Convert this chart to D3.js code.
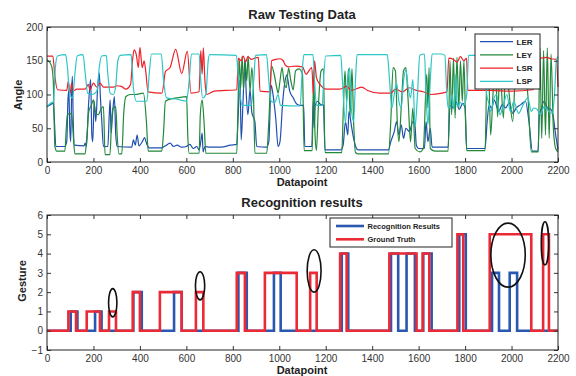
<!DOCTYPE html>
<html>
<head>
<meta charset="utf-8">
<script src="https://cdn.jsdelivr.net/npm/d3@7"></script>
<style>
  body { margin: 0; background: #fff; }
  svg { font-family: "Liberation Sans", Arial, sans-serif; }
  .tick text { fill: #333; font-size: 10px; }
  .tick line { stroke: #333; }
  .title { font-weight: bold; font-size: 13px; fill: #222; }
  .label { font-weight: bold; font-size: 11px; fill: #222; }
  .legend text { font-weight: bold; font-size: 8px; fill: #222; }
</style>
</head>
<body>
<svg id="chart" width="576" height="376"></svg>
<script>
// raw sensor angles as [datapoint, angle] vertices
const LER = [[0,82],[15,85],[27,87],[32,60],[38,23],[77,23],[85,30],[90,90],[94,107],[98,50],[102,30],[106,100],[109,127],[113,60],[118,25],[160,24],[164,28],[170,23],[178,80],[184,110],[188,122],[193,40],[197,30],[203,90],[210,60],[218,110],[225,132],[230,95],[236,60],[243,23],[262,23],[268,70],[272,92],[276,43],[282,70],[290,97],[296,40],[302,23],[365,22],[372,33],[380,25],[388,40],[396,24],[410,30],[420,36],[428,28],[440,21],[494,21],[510,24],[530,28],[545,23],[560,25],[580,22],[600,23],[615,26],[630,20],[645,23],[655,18],[662,30],[668,43],[672,15],[680,23],[700,22],[750,22],[790,25],[817,26],[822,60],[831,122],[836,33],[844,90],[852,152],[858,100],[865,70],[874,107],[882,73],[895,60],[903,23],[946,22],[955,30],[965,114],[975,95],[985,64],[995,23],[1003,30],[1015,90],[1025,120],[1032,129],[1045,105],[1060,95],[1075,86],[1090,84],[1105,84],[1110,23],[1140,23],[1146,90],[1150,50],[1155,85],[1165,90],[1175,86],[1190,84],[1197,18],[1265,18],[1275,25],[1285,60],[1295,40],[1300,75],[1310,55],[1320,35],[1330,22],[1340,18],[1470,18],[1480,30],[1495,45],[1505,60],[1515,40],[1525,55],[1535,35],[1545,50],[1560,45],[1575,60],[1584,55],[1590,25],[1600,20],[1625,20],[1632,60],[1640,30],[1650,50],[1658,22],[1670,22],[1727,22],[1735,84],[1750,80],[1760,90],[1775,78],[1790,87],[1800,80],[1807,20],[1886,20],[1895,60],[1903,84],[1915,80],[1925,92],[1945,75],[1960,85],[1975,80],[1990,88],[2005,72],[2020,80],[2040,85],[2060,90],[2075,60],[2090,16],[2114,16],[2120,70],[2128,79],[2140,90],[2155,80],[2170,78],[2178,70],[2190,40],[2200,18]];

const LEY = [[0,152],[20,142],[27,120],[34,23],[42,16],[77,16],[83,50],[88,70],[106,72],[113,40],[120,12],[164,12],[172,40],[180,75],[192,85],[200,92],[208,75],[220,70],[235,80],[243,82],[250,11],[271,11],[278,60],[285,80],[296,82],[302,40],[310,12],[322,12],[330,70],[340,97],[360,100],[380,100],[415,102],[428,60],[436,16],[494,16],[501,40],[510,90],[540,94],[580,96],[601,97],[606,40],[612,13],[655,13],[660,70],[668,92],[676,60],[684,13],[817,13],[822,80],[828,152],[834,110],[840,157],[846,107],[853,150],[860,120],[866,157],[874,105],[882,140],[889,100],[895,13],[946,13],[955,60],[967,142],[978,130],[989,110],[995,102],[1003,120],[1012,140],[1020,120],[1030,110],[1040,139],[1050,120],[1060,107],[1070,135],[1085,138],[1100,130],[1107,17],[1142,17],[1148,135],[1154,40],[1160,17],[1168,80],[1180,135],[1190,138],[1197,14],[1269,14],[1276,80],[1283,135],[1290,90],[1298,138],[1305,70],[1313,138],[1320,60],[1328,14],[1340,12],[1470,12],[1480,60],[1490,140],[1500,135],[1508,60],[1515,30],[1525,80],[1535,135],[1545,140],[1555,90],[1565,30],[1575,80],[1585,20],[1605,15],[1620,20],[1635,130],[1640,80],[1645,140],[1650,20],[1670,16],[1727,16],[1735,150],[1742,70],[1750,154],[1757,65],[1765,155],[1773,80],[1780,150],[1788,90],[1795,150],[1802,60],[1807,17],[1886,17],[1893,120],[1900,150],[1910,40],[1920,100],[1930,150],[1940,67],[1950,140],[1965,65],[1975,150],[1990,100],[2005,60],[2020,150],[2035,120],[2050,140],[2070,100],[2085,15],[2115,15],[2122,169],[2130,35],[2138,165],[2146,40],[2154,169],[2162,35],[2170,160],[2180,50],[2190,20],[2200,15]];

const LSR = [[0,157],[25,157],[34,127],[45,107],[85,106],[92,120],[99,100],[106,117],[113,105],[128,108],[164,108],[178,115],[185,107],[200,117],[214,111],[228,117],[243,111],[286,111],[300,113],[320,112],[340,108],[360,115],[368,150],[375,166],[385,158],[393,140],[400,170],[410,140],[418,150],[425,135],[435,104],[495,102],[510,134],[530,140],[554,167],[580,131],[604,164],[620,102],[655,104],[662,165],[668,130],[673,169],[680,120],[687,100],[720,105],[817,107],[824,154],[835,150],[845,157],[855,148],[865,156],[880,152],[895,154],[910,155],[917,105],[960,104],[967,150],[985,152],[1003,153],[1017,150],[1025,144],[1040,141],[1070,142],[1100,141],[1115,130],[1140,140],[1147,100],[1152,150],[1160,125],[1175,115],[1204,108],[1262,108],[1290,112],[1310,106],[1355,111],[1380,106],[1434,102],[1480,102],[1500,108],[1530,104],[1560,110],[1590,106],[1620,104],[1649,100],[1700,102],[1722,104],[1730,154],[1750,152],[1765,148],[1780,156],[1795,150],[1806,154],[1812,106],[1850,106],[1900,106],[2000,105],[2093,107],[2107,152],[2130,154],[2150,155],[2170,153],[2193,152],[2200,111]];

const LSP = [[0,82],[15,87],[28,90],[36,140],[45,157],[80,159],[88,140],[98,100],[110,95],[120,130],[130,157],[155,159],[165,130],[175,102],[195,100],[215,105],[225,140],[235,157],[255,158],[262,130],[272,102],[285,100],[295,110],[305,150],[315,158],[362,159],[372,110],[385,90],[430,90],[440,130],[450,160],[492,160],[502,120],[515,95],[560,93],[600,90],[612,120],[622,160],[655,160],[662,120],[670,95],[684,100],[694,150],[700,159],[815,158],[825,120],[840,84],[880,84],[890,120],[898,158],[945,159],[955,120],[965,90],[980,88],[995,100],[1005,84],[1090,83],[1098,130],[1106,159],[1145,159],[1152,120],[1160,84],[1185,84],[1192,130],[1200,157],[1265,158],[1272,120],[1285,58],[1295,120],[1303,140],[1310,80],[1320,60],[1328,120],[1335,159],[1465,159],[1475,120],[1485,80],[1495,100],[1505,117],[1515,90],[1525,80],[1535,120],[1545,137],[1555,110],[1565,95],[1575,122],[1585,53],[1595,100],[1605,158],[1625,160],[1632,100],[1640,55],[1650,120],[1658,160],[1700,160],[1713,158],[1720,110],[1727,80],[1735,84],[1745,100],[1752,78],[1760,130],[1766,82],[1780,88],[1795,84],[1807,100],[1815,158],[1886,158],[1893,100],[1900,90],[1910,75],[1925,95],[1935,100],[1950,70],[1965,85],[1980,100],[1995,75],[2010,90],[2030,72],[2050,85],[2070,95],[2085,75],[2095,80],[2110,78],[2125,70],[2140,82],[2160,75],[2175,72],[2185,100],[2193,150],[2200,156]];

const seriesNames = ["LER", "LEY", "LSR", "LSP"];
const seriesColors = ["#1f4fb0", "#22883a", "#ee2028", "#2cc6c6"];

// recognition: [datapoint where value starts, gesture]
const recognized = [[0,0],[102,1],[131,0],[207,1],[235,0],[372,2],[408,0],[547,2],[580,0],[824,3],[860,0],[977,3],[1006,0],[1269,4],[1297,0],[1481,4],[1512,0],[1548,4],[1584,0],[1620,4],[1656,0],[1775,5],[1803,0],[1916,3],[1946,0],[1992,3],[2024,0],[2200,0]];
const groundTruth = [[0,0],[92,1],[125,0],[171,1],[228,0],[267,1],[297,0],[369,2],[400,0],[486,2],[580,0],[641,2],[673,0],[817,3],[852,0],[938,3],[1075,0],[1133,3],[1161,0],[1262,4],[1290,0],[1474,4],[1591,0],[1617,4],[1646,0],[1767,5],[1792,0],[1906,5],[2085,0],[2136,5],[2161,0],[2200,0]];

// misses circled in the figure: centre and half-size in data units
const ellipses = [
  { d: 283, g: 1.45, rd: 18, rg: 0.73 },
  { d: 659, g: 2.33, rd: 20, rg: 0.73 },
  { d: 1150, g: 3.1, rd: 30, rg: 1.1 },
  { d: 1985, g: 3.92, rd: 74, rg: 1.66 },
  { d: 2144, g: 4.53, rd: 16, rg: 1.12 }
];

const xTicks = [0, 200, 400, 600, 800, 1000, 1200, 1400, 1600, 1800, 2000, 2200];
const angleTicks = [0, 50, 100, 150, 200];
const gestureTicks = [-1, 0, 1, 2, 3, 4, 5, 6];

const svg = d3.select("#chart");
const left = 47, right = 558;

const x = d3.scaleLinear().domain([0, 2200]).range([left, right]);
const yTop = d3.scaleLinear().domain([0, 200]).range([162, 27]);
const yBot = d3.scaleLinear().domain([-1, 6]).range([350, 215]);

function frame(y, ticks, fmt) {
  const [y0, y1] = y.range();
  const g = svg.append("g");
  g.append("g").attr("transform", `translate(0,${y0})`)
    .call(d3.axisBottom(x).tickValues(xTicks).tickSizeInner(-4).tickSizeOuter(0)
      .tickPadding(5).tickFormat(d3.format("d")));
  g.append("g").attr("transform", `translate(0,${y1})`)
    .call(d3.axisTop(x).tickValues(xTicks).tickSizeInner(-4).tickSizeOuter(0).tickFormat(""));
  g.append("g").attr("transform", `translate(${left},0)`)
    .call(d3.axisLeft(y).tickValues(ticks).tickSizeInner(-4).tickSizeOuter(0).tickPadding(4).tickFormat(fmt));
  g.append("g").attr("transform", `translate(${right},0)`)
    .call(d3.axisRight(y).tickValues(ticks).tickSizeInner(-4).tickSizeOuter(0).tickFormat(""));
  g.selectAll(".domain").remove();
  g.append("rect")
    .attr("x", left).attr("y", y1)
    .attr("width", right - left).attr("height", y0 - y1)
    .attr("fill", "none").attr("stroke", "#222").attr("stroke-width", 1);
}

// ---- top: raw testing data
const line = d3.line().x(d => x(d[0])).y(d => yTop(d[1])).curve(d3.curveMonotoneX);
[LER, LEY, LSR, LSP].forEach((s, i) => {
  svg.append("path")
    .datum(s)
    .attr("fill", "none")
    .attr("stroke", seriesColors[i])
    .attr("stroke-width", 1.2)
    .attr("stroke-linejoin", "round")
    .attr("d", line);
});
frame(yTop, angleTicks, d3.format("d"));

svg.append("text").attr("class", "title").attr("x", 302).attr("y", 19)
  .attr("text-anchor", "middle").text("Raw Testing Data");
svg.append("text").attr("class", "label").attr("x", 302).attr("y", 186)
  .attr("text-anchor", "middle").text("Datapoint");
svg.append("text").attr("class", "label")
  .attr("transform", "translate(22,95) rotate(-90)")
  .attr("text-anchor", "middle").text("Angle");

const leg1 = svg.append("g").attr("class", "legend");
leg1.append("rect").attr("x", 475).attr("y", 34).attr("width", 65).attr("height", 55)
  .attr("fill", "#fff").attr("stroke", "#222");
seriesNames.forEach((n, i) => {
  const yy = 41.7 + i * 13.2;
  leg1.append("line").attr("x1", 480).attr("x2", 513).attr("y1", yy).attr("y2", yy)
    .attr("stroke", seriesColors[i]).attr("stroke-width", 1.2);
  leg1.append("text").attr("x", 516.5).attr("y", yy + 3).text(n);
});

// ---- bottom: recognition results
const step = d3.line().x(d => x(d[0])).y(d => yBot(d[1])).curve(d3.curveStepAfter);
svg.append("path").datum(recognized)
  .attr("fill", "none").attr("stroke", "#2a58b0").attr("stroke-width", 2.6).attr("d", step);
svg.append("path").datum(groundTruth)
  .attr("fill", "none").attr("stroke", "#ec2a36").attr("stroke-width", 2.6).attr("d", step);

svg.selectAll(".miss")
  .data(ellipses)
  .enter().append("ellipse")
  .attr("class", "miss")
  .attr("cx", d => x(d.d))
  .attr("cy", d => yBot(d.g))
  .attr("rx", d => x(d.rd) - x(0))
  .attr("ry", d => yBot(0) - yBot(d.rg))
  .attr("fill", "none").attr("stroke", "#111").attr("stroke-width", 1.6);

frame(yBot, gestureTicks, d => d < 0 ? "\u2212" + Math.abs(d) : d);

svg.append("text").attr("class", "title").attr("x", 302).attr("y", 207)
  .attr("text-anchor", "middle").text("Recognition results");
svg.append("text").attr("class", "label").attr("x", 302).attr("y", 374)
  .attr("text-anchor", "middle").text("Datapoint");
svg.append("text").attr("class", "label")
  .attr("transform", "translate(26,281) rotate(-90)")
  .attr("text-anchor", "middle").text("Gesture");

const leg2 = svg.append("g").attr("class", "legend");
leg2.append("rect").attr("x", 330).attr("y", 218).attr("width", 122).attr("height", 29)
  .attr("fill", "#fff").attr("stroke", "#222");
[["Recognition Results", "#2a58b0"], ["Ground Truth", "#ec2a36"]].forEach((r, i) => {
  const yy = 226 + i * 13.3;
  leg2.append("line").attr("x1", 336).attr("x2", 364).attr("y1", yy).attr("y2", yy)
    .attr("stroke", r[1]).attr("stroke-width", 2.6);
  leg2.append("text").attr("x", 367.5).attr("y", yy + 3).style("font-size", "7.5px").text(r[0]);
});
</script>
</body>
</html>
